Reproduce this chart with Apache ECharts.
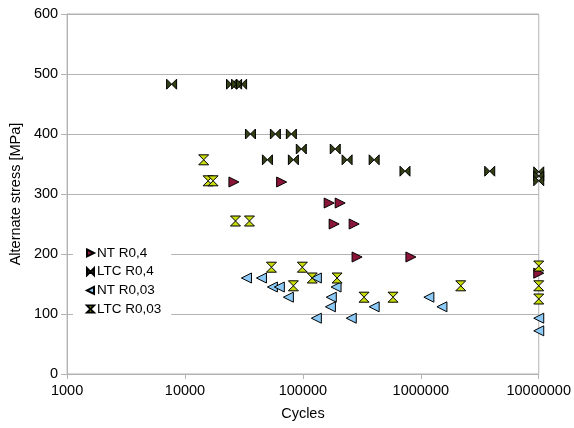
<!DOCTYPE html>
<html>
<head>
<meta charset="utf-8">
<script src="https://cdn.jsdelivr.net/npm/echarts@6/dist/echarts.min.js"></script>
<style>html,body{margin:0;padding:0;background:#fff}#c{width:574px;height:428px}</style>
</head>
<body>
<div id="c"></div>
<script>
var seriesNames = ['NT R0,4', 'LTC R0,4', 'NT R0,03', 'LTC R0,03'];

var ntR04Cycles = [26000, 66000, 167000, 207000, 184000, 272000, 288000, 824000, 10000000];
var ntR04Stress = [320, 320, 285, 285, 250, 250, 195, 195, 168];

var ltcR04Cycles = [7700, 24800, 27400, 30200, 35900, 58400, 79800, 96900, 188000, 50000, 83000, 237000, 402000, 734000, 3840000, 10000000, 10000000, 10000000];
var ltcR04Stress = [483, 483, 483, 483, 400, 400, 400, 375, 375, 357, 357, 357, 357, 338, 338, 337, 330, 322];

var ntR003Cycles = [33200, 44500, 55100, 63100, 75300, 130000, 191000, 174000, 171000, 130000, 257000, 402000, 1170000, 1510000, 10000000, 10000000];
var ntR003Stress = [160, 160, 145, 145, 128, 160, 145, 128, 112, 93, 93, 112, 128, 112, 93, 72];

var ltcR003Cycles = [14400, 15700, 17300, 26800, 35200, 54100, 98900, 83000, 120000, 195000, 330000, 581000, 2180000, 10000000, 10000000, 10000000];
var ltcR003Stress = [357, 322, 322, 255, 255, 178, 178, 147, 160, 160, 128, 128, 147, 180, 147, 125];

var xTicks = [1000, 10000, 100000, 1000000, 10000000];
var yTicks = [0, 100, 200, 300, 400, 500, 600];

function pairs(xs, ys) { return xs.map(function (x, i) { return [x, ys[i]]; }); }

var symRight = 'path://M0,0 L10,5 L0,10 Z';
var symLeft = 'path://M10,0 L0,5 L10,10 Z';
var symBow = 'path://M0,0 L5,5 L0,10 Z M10,0 L5,5 L10,10 Z';
var symHour = 'path://M0,0 L10,0 L5,5 Z M5,5 L10,10 L0,10 Z';

var font = 'Liberation Sans, Arial, sans-serif';

function mk(name, data, sym, color) {
  return {
    name: name, type: 'scatter', data: data, symbol: sym, symbolSize: [10, 10],
    itemStyle: { color: color, borderColor: '#000', borderWidth: 1, opacity: 1 },
    emphasis: { disabled: true }
  };
}

var chart = echarts.init(document.getElementById('c'), null, { renderer: 'canvas' });
chart.setOption({
  animation: false,
  backgroundColor: '#fff',
  grid: { left: 67, right: 34, top: 14, bottom: 54, show: true, borderColor: '#b3b3b3', borderWidth: 1, backgroundColor: 'transparent' },
  legend: {
    orient: 'vertical', left: 73, top: 242, backgroundColor: '#fff',
    padding: [4, 10, 4, 13], itemWidth: 7, itemHeight: 9, itemGap: 4.7,
    textStyle: { fontFamily: font, fontSize: 13.5, color: '#000', padding: [0, 0, 0, -2] },
    data: seriesNames
  },
  xAxis: {
    type: 'log', logBase: 10, min: xTicks[0], max: xTicks[xTicks.length - 1],
    name: 'Cycles', nameLocation: 'middle', nameGap: 32,
    nameTextStyle: { fontFamily: font, fontSize: 14.5, color: '#000' },
    axisLine: { lineStyle: { color: '#b3b3b3' } },
    axisTick: { show: true, length: 5, inside: false, lineStyle: { color: '#b3b3b3' } },
    minorTick: { show: false },
    splitLine: { show: false },
    axisLabel: { fontFamily: font, fontSize: 14.5, color: '#000', margin: 9, showMinLabel: true, showMaxLabel: true,
      formatter: function (v) { return String(Math.round(v)); } }
  },
  yAxis: {
    type: 'value', min: yTicks[0], max: yTicks[yTicks.length - 1], interval: 100,
    name: 'Alternate stress [MPa]', nameLocation: 'middle', nameGap: 41,
    nameTextStyle: { fontFamily: font, fontSize: 14.5, color: '#000' },
    axisLine: { show: true, lineStyle: { color: '#b3b3b3' } },
    axisTick: { show: true, length: 6, lineStyle: { color: '#b3b3b3' } },
    splitLine: { show: true, lineStyle: { color: '#b3b3b3', width: 1 } },
    axisLabel: { fontFamily: font, fontSize: 14.5, color: '#000', margin: 9 }
  },
  series: [
    mk(seriesNames[0], pairs(ntR04Cycles, ntR04Stress), symRight, '#8b1538'),
    mk(seriesNames[1], pairs(ltcR04Cycles, ltcR04Stress), symBow, '#333f14'),
    mk(seriesNames[2], pairs(ntR003Cycles, ntR003Stress), symLeft, '#8ccbf7'),
    mk(seriesNames[3], pairs(ltcR003Cycles, ltcR003Stress), symHour, '#c8dc0a')
  ]
});
</script>
</body>
</html>
